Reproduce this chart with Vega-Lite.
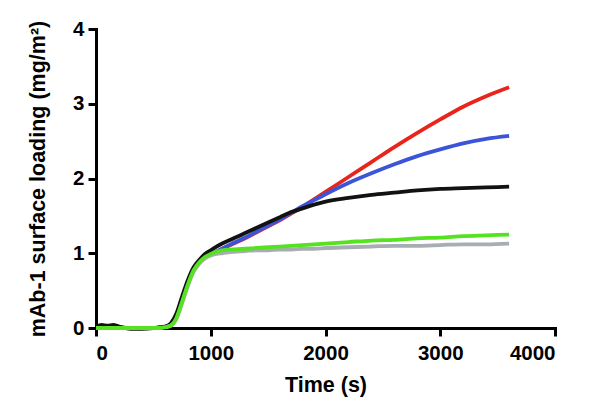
{
  "$schema": "https://vega.github.io/schema/vega-lite/v6.json",
  "width": 459,
  "height": 299,
  "autosize": {"type": "none"},
  "padding": {"left": 96, "top": 29, "right": 45, "bottom": 84},
  "background": "white",
  "config": {
    "view": {"stroke": null},
    "font": "Liberation Sans",
    "axis": {
      "grid": false,
      "domainColor": "#000000",
      "domainWidth": 3,
      "domainCap": "square",
      "tickColor": "#000000",
      "tickWidth": 3,
      "tickSize": 8,
      "labelColor": "#000000",
      "labelFont": "Liberation Sans",
      "labelFontSize": 20.5,
      "labelFontWeight": "bold",
      "titleColor": "#000000",
      "titleFont": "Liberation Sans",
      "titleFontSize": 21.5,
      "titleFontWeight": "bold"
    }
  },
  "data": {
    "values": [
      {"t": 0, "A": 0.0, "B": 0.0, "C": 0.02, "D": 0.0, "E": 0.0},
      {"t": 50, "A": 0.0, "B": 0.0, "C": 0.04, "D": 0.0, "E": 0.0},
      {"t": 100, "A": 0.0, "B": 0.0, "C": 0.03, "D": 0.0, "E": 0.0},
      {"t": 150, "A": 0.0, "B": 0.0, "C": 0.04, "D": 0.0, "E": 0.0},
      {"t": 200, "A": 0.0, "B": 0.0, "C": 0.02, "D": 0.0, "E": 0.0},
      {"t": 300, "A": 0.0, "B": 0.0, "C": -0.01, "D": 0.0, "E": 0.0},
      {"t": 400, "A": 0.0, "B": 0.0, "C": -0.01, "D": 0.0, "E": 0.0},
      {"t": 500, "A": 0.0, "B": 0.0, "C": 0.0, "D": 0.0, "E": 0.0},
      {"t": 550, "A": 0.0, "B": 0.0, "C": 0.01, "D": 0.0, "E": 0.0},
      {"t": 600, "A": 0.01, "B": 0.01, "C": 0.02, "D": 0.01, "E": 0.01},
      {"t": 650, "A": 0.04, "B": 0.04, "C": 0.06, "D": 0.03, "E": 0.03},
      {"t": 700, "A": 0.15, "B": 0.15, "C": 0.19, "D": 0.12, "E": 0.13},
      {"t": 750, "A": 0.37, "B": 0.37, "C": 0.42, "D": 0.33, "E": 0.35},
      {"t": 800, "A": 0.6, "B": 0.6, "C": 0.64, "D": 0.56, "E": 0.58},
      {"t": 850, "A": 0.78, "B": 0.78, "C": 0.81, "D": 0.75, "E": 0.77},
      {"t": 900, "A": 0.88, "B": 0.88, "C": 0.91, "D": 0.86, "E": 0.88},
      {"t": 950, "A": 0.95, "B": 0.95, "C": 0.99, "D": 0.93, "E": 0.95},
      {"t": 1000, "A": 0.99, "B": 0.99, "C": 1.04, "D": 0.97, "E": 0.99},
      {"t": 1050, "A": 1.02, "B": 1.02, "C": 1.09, "D": 0.99, "E": 1.02},
      {"t": 1100, "A": 1.06, "B": 1.06, "C": 1.13, "D": 1.0, "E": 1.04},
      {"t": 1200, "A": 1.13, "B": 1.14, "C": 1.2, "D": 1.02, "E": 1.05},
      {"t": 1300, "A": 1.2, "B": 1.21, "C": 1.27, "D": 1.03, "E": 1.06},
      {"t": 1400, "A": 1.28, "B": 1.29, "C": 1.34, "D": 1.04, "E": 1.07},
      {"t": 1500, "A": 1.36, "B": 1.37, "C": 1.41, "D": 1.04, "E": 1.08},
      {"t": 1600, "A": 1.44, "B": 1.45, "C": 1.48, "D": 1.05, "E": 1.09},
      {"t": 1700, "A": 1.53, "B": 1.54, "C": 1.55, "D": 1.05, "E": 1.1},
      {"t": 1800, "A": 1.62, "B": 1.63, "C": 1.6, "D": 1.06, "E": 1.11},
      {"t": 1900, "A": 1.72, "B": 1.71, "C": 1.65, "D": 1.06, "E": 1.12},
      {"t": 2000, "A": 1.82, "B": 1.79, "C": 1.69, "D": 1.07, "E": 1.13},
      {"t": 2200, "A": 2.02, "B": 1.94, "C": 1.74, "D": 1.08, "E": 1.15},
      {"t": 2400, "A": 2.22, "B": 2.07, "C": 1.78, "D": 1.09, "E": 1.17},
      {"t": 2600, "A": 2.42, "B": 2.19, "C": 1.81, "D": 1.1, "E": 1.18},
      {"t": 2800, "A": 2.61, "B": 2.3, "C": 1.84, "D": 1.1, "E": 1.2},
      {"t": 3000, "A": 2.79, "B": 2.39, "C": 1.86, "D": 1.11, "E": 1.21},
      {"t": 3200, "A": 2.96, "B": 2.47, "C": 1.87, "D": 1.12, "E": 1.23},
      {"t": 3400, "A": 3.1, "B": 2.53, "C": 1.88, "D": 1.12, "E": 1.24},
      {"t": 3600, "A": 3.22, "B": 2.57, "C": 1.89, "D": 1.13, "E": 1.25}
    ]
  },
  "transform": [
    {"fold": ["A", "B", "C", "D", "E"], "as": ["series", "value"]}
  ],
  "mark": {"type": "line", "strokeWidth": 3.8, "interpolate": "monotone", "clip": false},
  "encoding": {
    "x": {
      "field": "t",
      "type": "quantitative",
      "scale": {"domain": [0, 4000], "nice": false, "zero": false},
      "axis": {"values": [0, 1000, 2000, 3000, 4000], "format": "d", "title": "Time (s)", "labelPadding": 7, "titlePadding": 11}
    },
    "y": {
      "field": "value",
      "type": "quantitative",
      "scale": {"domain": [0, 4], "nice": false},
      "axis": {"values": [0, 1, 2, 3, 4], "format": "d", "title": "mAb-1 surface loading (mg/m²)", "labelPadding": 4, "titlePadding": 23}
    },
    "color": {
      "field": "series",
      "type": "nominal",
      "scale": {"domain": ["A", "B", "C", "D", "E"], "range": ["#e8251d", "#3c55d8", "#121212", "#a7adb3", "#55e321"]},
      "legend": null
    },
    "order": {"field": "t", "type": "quantitative"}
  }
}
